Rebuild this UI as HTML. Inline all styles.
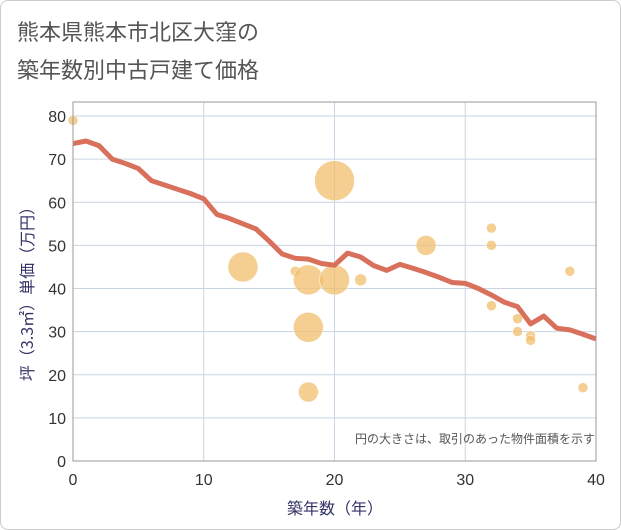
<!DOCTYPE html>
<html><head><meta charset="utf-8"><style>
body{margin:0;background:#fff;font-family:"Liberation Sans","Noto Sans CJK JP",sans-serif}
#wrap{position:relative;width:619px;height:528px;border:1px solid #ccc;border-radius:8px;overflow:hidden;background:#fff}
</style></head><body>
<div id="wrap">
<svg id="c" width="621" height="530" style="position:absolute;left:-1px;top:-1px">
<text x="17" y="40" font-size="22" fill="#555" font-family="Noto Sans CJK JP,sans-serif">熊本県熊本市北区大窪の</text>
<text x="17" y="78" font-size="22" fill="#555" font-family="Noto Sans CJK JP,sans-serif">築年数別中古戸建て価格</text>
<g id="grid"></g><g id="marks"></g><g id="axes"></g>
<text x="595" y="443" font-size="12" fill="#555" text-anchor="end" font-family="Noto Sans CJK JP,sans-serif">円の大きさは、取引のあった物件面積を示す</text>
<text x="335" y="514" font-size="16" fill="#336" text-anchor="middle" font-family="Noto Sans CJK JP,sans-serif">築年数（年）</text>
<text transform="translate(33,290) rotate(-90)" font-size="16" fill="#336" text-anchor="middle" font-family="Noto Sans CJK JP,sans-serif">坪（3.3㎡）単価（万円）</text>
</svg></div>
<script>
const xTicks=[0,10,20,30,40];
const yTicks=[0,10,20,30,40,50,60,70,80];
const lineYears=[0,1,2,3,4,5,6,7,8,9,10,11,12,13,14,15,16,17,18,19,20,21,22,23,24,25,26,27,28,29,30,31,32,33,34,35,36,37,38,39,40];
const lineValues=[73.6,74.2,73.1,70,69,67.8,65,64,63,62,60.8,57.2,56.2,55,53.8,51,48,47,46.8,45.8,45.4,48.2,47.3,45.3,44.2,45.6,44.7,43.7,42.6,41.4,41.2,40,38.5,36.8,35.8,31.8,33.6,30.8,30.4,29.4,28.3];
const bubbleX=[0,13,17,18,20,20,22,27,32,32,32,34,34,35,35,38,39,18,18];
const bubbleY=[79,45,44,42,65,42,42,50,54,50,36,33,30,29,28,44,17,31,16];
const bubbleR=[5,15,5,15,20,15,6,10,5,5,5,5,5,5,5,5,5,15,10];
const NS='http://www.w3.org/2000/svg';
const X0=73,X1=596,Y0=461,Y1=116;
const sx=v=>X0+(X1-X0)*v/40, sy=v=>Y0-(Y0-Y1)*v/80;
function mk(t,a,p){const e=document.createElementNS(NS,t);for(const k in a)e.setAttribute(k,a[k]);p.appendChild(e);return e;}
const grid=document.getElementById('grid'),marks=document.getElementById('marks'),axes=document.getElementById('axes');
yTicks.forEach(v=>{const l=mk('line',{x1:X0,x2:X1,y1:sy(v),y2:sy(v),stroke:'#c9d5e3'},grid);

const t=mk('text',{x:X0-7,y:sy(v)+6,'font-size':16,fill:'#333','text-anchor':'end'},axes);t.textContent=v;
});
xTicks.forEach(v=>{const l=mk('line',{x1:sx(v),x2:sx(v),y1:Y1-14,y2:Y0,stroke:'#c9d5e3'},grid);

const t=mk('text',{x:sx(v),y:Y0+24,'font-size':16,fill:'#333','text-anchor':'middle'},axes);t.textContent=v;
});
const fr=mk('rect',{x:X0,y:Y1-14,width:X1-X0,height:Y0-Y1+14,fill:'none',stroke:'#999'},axes);

bubbleX.forEach((v,i)=>{const c=mk('circle',{cx:sx(v),cy:sy(bubbleY[i]),r:bubbleR[i],fill:'rgba(242,190,110,0.75)',stroke:'#fff','stroke-width':0.5},marks);
});
const pl=mk('polyline',{points:lineYears.map((v,i)=>sx(v)+','+sy(lineValues[i])).join(' '),fill:'none',stroke:'#d9705c','stroke-width':5,'stroke-linejoin':'round'},marks);

</script></body></html>
